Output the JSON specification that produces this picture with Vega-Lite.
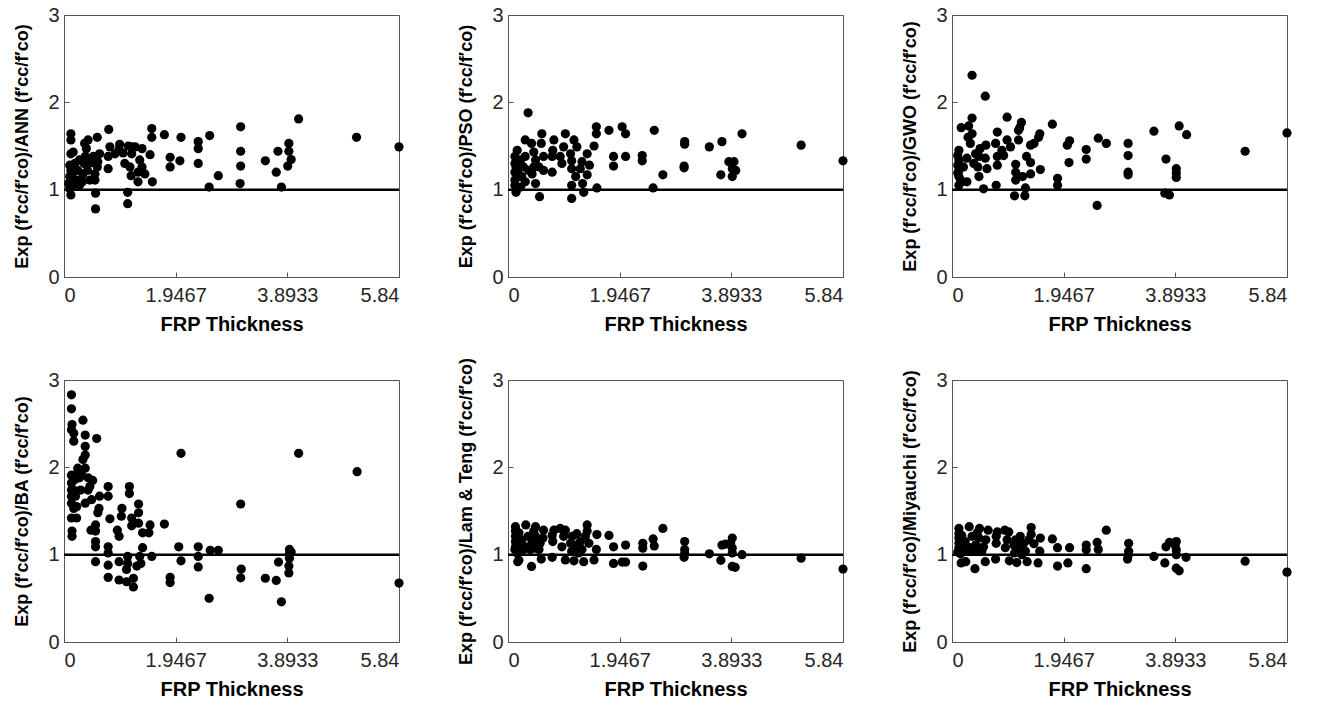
{
  "$schema": "https://vega.github.io/schema/vega-lite/v6.json",
  "padding": {"left": 13, "top": 4, "right": 0, "bottom": 0},
  "background": "white",
  "datasets": {
    "ANN": [
      {"t":5.84,"r":1.49},{"t":5.10,"r":1.60},{"t":4.09,"r":1.81},{"t":3.96,"r":1.345},{"t":3.92,"r":1.53},{"t":3.92,"r":1.44},{"t":3.90,"r":1.27},{"t":3.73,"r":1.44},{"t":3.70,"r":1.20},{"t":3.79,"r":1.03},
      {"t":3.51,"r":1.33},{"t":3.08,"r":1.72},{"t":3.08,"r":1.44},{"t":3.08,"r":1.27},{"t":3.07,"r":1.07},{"t":2.69,"r":1.16},{"t":2.54,"r":1.62},{"t":2.53,"r":1.03},{"t":2.34,"r":1.55},{"t":2.34,"r":1.47},
      {"t":2.34,"r":1.30},{"t":2.04,"r":1.60},{"t":2.02,"r":1.33},{"t":1.85,"r":1.37},{"t":1.85,"r":1.26},{"t":1.75,"r":1.63},{"t":1.53,"r":1.70},{"t":1.53,"r":1.60},{"t":1.54,"r":1.09},{"t":1.50,"r":1.40},
      {"t":1.41,"r":1.18},{"t":1.36,"r":1.26},{"t":1.36,"r":1.47},{"t":1.32,"r":1.34},{"t":1.29,"r":1.20},{"t":1.29,"r":1.09},{"t":1.24,"r":1.49},{"t":1.18,"r":1.49},{"t":1.18,"r":1.41},{"t":1.15,"r":1.26},
      {"t":1.17,"r":1.16},{"t":1.12,"r":1.50},{"t":1.11,"r":0.97},{"t":1.11,"r":0.84},{"t":1.06,"r":1.30},{"t":1.03,"r":1.42},{"t":0.97,"r":1.52},{"t":0.96,"r":1.46},{"t":0.89,"r":1.41},{"t":0.80,"r":1.49},
      {"t":0.78,"r":1.69},{"t":0.77,"r":1.38},{"t":0.77,"r":1.24},{"t":0.62,"r":1.41},{"t":0.59,"r":1.32},{"t":0.58,"r":1.26},{"t":0.58,"r":1.60},{"t":0.55,"r":0.96},{"t":0.55,"r":0.78},{"t":0.54,"r":1.11},
      {"t":0.54,"r":1.18},{"t":0.51,"r":1.38},{"t":0.48,"r":1.31},{"t":0.42,"r":1.57},{"t":0.39,"r":1.47},{"t":0.37,"r":1.38},{"t":0.35,"r":1.30},{"t":0.33,"r":1.18},{"t":0.32,"r":1.09},{"t":0.36,"r":1.53},
      {"t":0.27,"r":1.34},{"t":0.24,"r":1.22},{"t":0.22,"r":1.11},{"t":0.19,"r":1.30},{"t":0.16,"r":1.43},{"t":0.14,"r":1.18},{"t":0.13,"r":1.03},{"t":0.12,"r":1.64},{"t":0.12,"r":1.57},{"t":0.12,"r":1.41},
      {"t":0.12,"r":1.22},{"t":0.12,"r":1.11},{"t":0.12,"r":0.94},{"t":0.10,"r":1.15},{"t":0.10,"r":1.01},{"t":0.10,"r":1.28},{"t":0.08,"r":1.07},{"t":0.19,"r":1.07},{"t":0.27,"r":1.05},{"t":0.45,"r":1.11},
      {"t":0.41,"r":1.22}
    ],
    "PSO": [
      {"t":5.84,"r":1.33},{"t":5.11,"r":1.51},{"t":4.08,"r":1.64},{"t":3.94,"r":1.32},{"t":3.91,"r":1.24},{"t":3.91,"r":1.15},{"t":3.85,"r":1.32},{"t":3.97,"r":1.22},{"t":3.73,"r":1.55},{"t":3.71,"r":1.17},
      {"t":3.51,"r":1.49},{"t":3.08,"r":1.55},{"t":3.08,"r":1.52},{"t":3.07,"r":1.27},{"t":3.07,"r":1.25},{"t":2.70,"r":1.17},{"t":2.55,"r":1.68},{"t":2.53,"r":1.02},{"t":2.34,"r":1.39},{"t":2.34,"r":1.33},
      {"t":2.05,"r":1.38},{"t":2.05,"r":1.64},{"t":1.99,"r":1.72},{"t":1.84,"r":1.38},{"t":1.84,"r":1.27},{"t":1.76,"r":1.68},{"t":1.54,"r":1.72},{"t":1.54,"r":1.64},{"t":1.55,"r":1.02},{"t":1.50,"r":1.50},
      {"t":1.42,"r":1.28},{"t":1.38,"r":1.41},{"t":1.38,"r":1.17},{"t":1.32,"r":0.97},{"t":1.30,"r":1.07},{"t":1.29,"r":1.32},{"t":1.26,"r":1.24},{"t":1.20,"r":1.49},{"t":1.18,"r":1.15},{"t":1.15,"r":1.57},
      {"t":1.11,"r":0.90},{"t":1.11,"r":1.05},{"t":1.11,"r":1.24},{"t":1.11,"r":1.33},{"t":1.09,"r":1.41},{"t":1.00,"r":1.64},{"t":0.97,"r":1.49},{"t":0.94,"r":1.30},{"t":0.91,"r":1.38},{"t":0.80,"r":1.57},
      {"t":0.78,"r":1.45},{"t":0.77,"r":1.38},{"t":0.77,"r":1.20},{"t":0.62,"r":1.38},{"t":0.62,"r":1.22},{"t":0.59,"r":1.64},{"t":0.58,"r":1.53},{"t":0.55,"r":0.92},{"t":0.54,"r":1.26},{"t":0.48,"r":1.34},
      {"t":0.48,"r":1.07},{"t":0.45,"r":1.43},{"t":0.42,"r":1.18},{"t":0.41,"r":1.53},{"t":0.35,"r":1.88},{"t":0.30,"r":1.57},{"t":0.30,"r":1.38},{"t":0.30,"r":1.09},{"t":0.27,"r":1.26},{"t":0.24,"r":1.15},
      {"t":0.22,"r":1.03},{"t":0.22,"r":1.34},{"t":0.17,"r":1.22},{"t":0.16,"r":1.45},{"t":0.14,"r":0.97},{"t":0.12,"r":1.30},{"t":0.12,"r":1.11},{"t":0.12,"r":1.38},{"t":0.12,"r":1.20},{"t":0.12,"r":1.05},
      {"t":0.14,"r":1.26},{"t":0.19,"r":1.15},{"t":0.36,"r":1.22},{"t":0.45,"r":1.26}
    ],
    "GWO": [
      {"t":5.84,"r":1.65},{"t":5.11,"r":1.44},{"t":4.09,"r":1.63},{"t":3.96,"r":1.73},{"t":3.91,"r":1.24},{"t":3.91,"r":1.19},{"t":3.91,"r":1.14},{"t":3.73,"r":1.35},{"t":3.71,"r":0.96},{"t":3.79,"r":0.94},
      {"t":3.52,"r":1.67},{"t":3.07,"r":1.53},{"t":3.07,"r":1.39},{"t":3.07,"r":1.20},{"t":3.07,"r":1.17},{"t":2.69,"r":1.53},{"t":2.55,"r":1.59},{"t":2.53,"r":0.82},{"t":2.34,"r":1.46},{"t":2.34,"r":1.35},
      {"t":2.05,"r":1.56},{"t":2.01,"r":1.51},{"t":2.04,"r":1.31},{"t":1.84,"r":1.13},{"t":1.84,"r":1.05},{"t":1.75,"r":1.75},{"t":1.54,"r":1.23},{"t":1.53,"r":1.64},{"t":1.51,"r":1.60},{"t":1.43,"r":1.53},
      {"t":1.37,"r":1.51},{"t":1.37,"r":1.18},{"t":1.37,"r":1.31},{"t":1.30,"r":1.38},{"t":1.28,"r":1.02},{"t":1.27,"r":0.93},{"t":1.23,"r":1.15},{"t":1.21,"r":1.77},{"t":1.18,"r":1.71},{"t":1.16,"r":1.68},
      {"t":1.16,"r":1.57},{"t":1.11,"r":1.20},{"t":1.11,"r":1.29},{"t":1.11,"r":1.11},{"t":1.09,"r":0.93},{"t":1.02,"r":1.49},{"t":0.96,"r":1.83},{"t":0.96,"r":1.57},{"t":0.90,"r":1.39},{"t":0.87,"r":1.45},
      {"t":0.79,"r":1.66},{"t":0.79,"r":1.38},{"t":0.79,"r":1.28},{"t":0.77,"r":1.05},{"t":0.76,"r":1.53},{"t":0.58,"r":2.07},{"t":0.59,"r":1.51},{"t":0.61,"r":1.24},{"t":0.58,"r":1.36},{"t":0.55,"r":1.01},
      {"t":0.49,"r":1.47},{"t":0.47,"r":1.38},{"t":0.45,"r":1.26},{"t":0.41,"r":1.41},{"t":0.38,"r":1.30},{"t":0.35,"r":2.31},{"t":0.35,"r":1.82},{"t":0.35,"r":1.64},{"t":0.32,"r":1.53},{"t":0.29,"r":1.73},
      {"t":0.28,"r":1.60},{"t":0.26,"r":1.36},{"t":0.26,"r":1.09},{"t":0.16,"r":1.71},{"t":0.17,"r":1.09},{"t":0.12,"r":1.45},{"t":0.12,"r":1.34},{"t":0.12,"r":1.22},{"t":0.12,"r":1.15},{"t":0.12,"r":1.05},
      {"t":0.10,"r":1.39},{"t":0.10,"r":1.28},{"t":0.10,"r":1.19},{"t":0.15,"r":1.11},{"t":0.20,"r":1.26},{"t":0.47,"r":1.15}
    ],
    "BA": [
      {"t":5.84,"r":0.675},{"t":5.11,"r":1.95},{"t":4.09,"r":2.16},{"t":3.93,"r":1.06},{"t":3.93,"r":1.01},{"t":3.93,"r":0.96},{"t":3.92,"r":0.87},{"t":3.92,"r":0.79},{"t":3.96,"r":1.03},{"t":3.79,"r":0.46},
      {"t":3.74,"r":0.915},{"t":3.70,"r":0.705},{"t":3.51,"r":0.73},{"t":3.08,"r":1.58},{"t":3.09,"r":0.835},{"t":3.08,"r":0.735},{"t":2.69,"r":1.05},{"t":2.55,"r":1.05},{"t":2.53,"r":0.50},{"t":2.34,"r":1.09},
      {"t":2.34,"r":0.98},{"t":2.34,"r":0.86},{"t":2.04,"r":2.16},{"t":2.04,"r":0.93},{"t":2.00,"r":1.09},{"t":1.85,"r":0.74},{"t":1.85,"r":0.68},{"t":1.75,"r":1.35},{"t":1.53,"r":0.98},{"t":1.50,"r":1.34},
      {"t":1.48,"r":1.25},{"t":1.37,"r":1.08},{"t":1.37,"r":1.25},{"t":1.34,"r":0.90},{"t":1.32,"r":0.98},{"t":1.30,"r":1.58},{"t":1.30,"r":1.48},{"t":1.30,"r":1.36},{"t":1.27,"r":0.87},{"t":1.18,"r":1.42},
      {"t":1.18,"r":1.33},{"t":1.21,"r":0.73},{"t":1.21,"r":0.63},{"t":1.14,"r":1.78},{"t":1.14,"r":1.70},{"t":1.11,"r":0.98},{"t":1.11,"r":0.90},{"t":1.09,"r":0.83},{"t":1.09,"r":0.69},{"t":1.01,"r":1.53},
      {"t":1.00,"r":1.44},{"t":0.96,"r":0.92},{"t":0.96,"r":0.71},{"t":0.93,"r":1.28},{"t":0.96,"r":1.21},{"t":0.80,"r":1.41},{"t":0.77,"r":1.78},{"t":0.77,"r":1.67},{"t":0.77,"r":1.09},{"t":0.77,"r":1.02},
      {"t":0.77,"r":0.88},{"t":0.77,"r":0.74},{"t":0.62,"r":1.67},{"t":0.61,"r":1.53},{"t":0.59,"r":1.48},{"t":0.57,"r":2.33},{"t":0.55,"r":1.34},{"t":0.55,"r":1.27},{"t":0.55,"r":1.15},{"t":0.55,"r":1.09},
      {"t":0.55,"r":0.92},{"t":0.50,"r":1.85},{"t":0.48,"r":1.63},{"t":0.47,"r":1.28},{"t":0.45,"r":1.78},{"t":0.42,"r":1.74},{"t":0.37,"r":2.37},{"t":0.37,"r":2.24},{"t":0.37,"r":2.14},{"t":0.37,"r":1.99},
      {"t":0.37,"r":1.59},{"t":0.33,"r":2.54},{"t":0.33,"r":2.09},{"t":0.30,"r":1.93},{"t":0.29,"r":1.74},{"t":0.27,"r":1.88},{"t":0.24,"r":1.99},{"t":0.22,"r":1.42},{"t":0.22,"r":1.55},{"t":0.19,"r":1.91},
      {"t":0.17,"r":2.30},{"t":0.17,"r":2.39},{"t":0.14,"r":2.49},{"t":0.13,"r":2.83},{"t":0.13,"r":2.67},{"t":0.13,"r":2.43},{"t":0.13,"r":1.91},{"t":0.13,"r":1.82},{"t":0.13,"r":1.74},{"t":0.13,"r":1.67},
      {"t":0.13,"r":1.59},{"t":0.13,"r":1.42},{"t":0.14,"r":1.27},{"t":0.14,"r":1.21},{"t":0.19,"r":1.86},{"t":0.17,"r":1.74},{"t":0.20,"r":1.67},{"t":0.17,"r":1.53},{"t":0.42,"r":1.88}
    ],
    "LT": [
      {"t":5.84,"r":0.835},{"t":5.11,"r":0.96},{"t":4.08,"r":1.00},{"t":3.96,"r":0.855},{"t":3.91,"r":0.865},{"t":3.91,"r":1.19},{"t":3.91,"r":1.075},{"t":3.91,"r":1.02},{"t":3.88,"r":1.13},{"t":3.79,"r":1.12},
      {"t":3.73,"r":1.11},{"t":3.71,"r":0.935},{"t":3.51,"r":1.01},{"t":3.08,"r":1.15},{"t":3.08,"r":1.06},{"t":3.08,"r":1.01},{"t":3.07,"r":0.97},{"t":2.70,"r":1.30},{"t":2.55,"r":1.10},{"t":2.53,"r":1.18},
      {"t":2.35,"r":1.13},{"t":2.35,"r":1.075},{"t":2.35,"r":0.87},{"t":2.05,"r":1.11},{"t":2.05,"r":0.915},{"t":1.99,"r":0.915},{"t":1.84,"r":1.09},{"t":1.84,"r":0.90},{"t":1.76,"r":1.22},{"t":1.55,"r":1.23},
      {"t":1.54,"r":1.06},{"t":1.50,"r":0.94},{"t":1.38,"r":1.34},{"t":1.38,"r":1.27},{"t":1.41,"r":1.13},{"t":1.35,"r":1.21},{"t":1.32,"r":0.92},{"t":1.29,"r":1.06},{"t":1.26,"r":1.15},{"t":1.20,"r":1.24},
      {"t":1.18,"r":1.11},{"t":1.15,"r":0.93},{"t":1.12,"r":1.21},{"t":1.11,"r":1.04},{"t":1.09,"r":1.13},{"t":1.00,"r":0.94},{"t":1.00,"r":1.28},{"t":0.97,"r":1.21},{"t":0.94,"r":1.09},{"t":0.91,"r":1.30},
      {"t":0.80,"r":1.28},{"t":0.78,"r":1.15},{"t":0.77,"r":0.97},{"t":0.77,"r":1.22},{"t":0.62,"r":1.28},{"t":0.61,"r":1.19},{"t":0.58,"r":0.95},{"t":0.56,"r":1.13},{"t":0.48,"r":1.32},{"t":0.48,"r":1.21},
      {"t":0.48,"r":1.075},{"t":0.45,"r":1.27},{"t":0.42,"r":1.15},{"t":0.41,"r":0.865},{"t":0.35,"r":1.21},{"t":0.31,"r":1.34},{"t":0.31,"r":1.09},{"t":0.27,"r":1.06},{"t":0.24,"r":1.17},{"t":0.19,"r":0.935},
      {"t":0.17,"r":0.92},{"t":0.16,"r":1.02},{"t":0.13,"r":1.32},{"t":0.13,"r":1.27},{"t":0.13,"r":1.21},{"t":0.13,"r":1.15},{"t":0.13,"r":1.09},{"t":0.12,"r":1.06},{"t":0.19,"r":1.25},{"t":0.22,"r":1.13},
      {"t":0.39,"r":1.06},{"t":0.54,"r":1.06},{"t":1.23,"r":1.02}
    ],
    "MI": [
      {"t":5.84,"r":0.80},{"t":5.11,"r":0.925},{"t":4.08,"r":0.97},{"t":3.96,"r":0.815},{"t":3.91,"r":0.845},{"t":3.91,"r":1.15},{"t":3.91,"r":1.055},{"t":3.91,"r":1.00},{"t":3.89,"r":1.11},{"t":3.79,"r":1.14},
      {"t":3.73,"r":1.09},{"t":3.71,"r":0.905},{"t":3.52,"r":0.98},{"t":3.08,"r":1.13},{"t":3.08,"r":1.04},{"t":3.07,"r":0.99},{"t":3.06,"r":0.95},{"t":2.69,"r":1.28},{"t":2.55,"r":1.06},{"t":2.53,"r":1.14},
      {"t":2.34,"r":1.11},{"t":2.34,"r":1.055},{"t":2.34,"r":0.84},{"t":2.05,"r":1.08},{"t":2.02,"r":0.905},{"t":1.84,"r":1.08},{"t":1.84,"r":0.87},{"t":1.75,"r":1.18},{"t":1.54,"r":1.19},{"t":1.53,"r":1.04},
      {"t":1.50,"r":0.905},{"t":1.38,"r":1.31},{"t":1.38,"r":1.23},{"t":1.43,"r":1.125},{"t":1.34,"r":1.17},{"t":1.31,"r":0.92},{"t":1.28,"r":1.04},{"t":1.25,"r":1.13},{"t":1.19,"r":1.21},{"t":1.16,"r":1.09},
      {"t":1.13,"r":0.91},{"t":1.11,"r":1.17},{"t":1.09,"r":1.02},{"t":1.08,"r":1.11},{"t":1.00,"r":0.93},{"t":0.99,"r":1.26},{"t":0.96,"r":1.17},{"t":0.93,"r":1.08},{"t":0.92,"r":1.28},{"t":0.79,"r":1.26},
      {"t":0.77,"r":1.13},{"t":0.76,"r":0.95},{"t":0.77,"r":1.21},{"t":0.63,"r":1.28},{"t":0.59,"r":1.17},{"t":0.58,"r":0.92},{"t":0.55,"r":1.09},{"t":0.48,"r":1.30},{"t":0.47,"r":1.19},{"t":0.47,"r":1.055},
      {"t":0.44,"r":1.25},{"t":0.41,"r":1.11},{"t":0.40,"r":0.84},{"t":0.35,"r":1.21},{"t":0.30,"r":1.32},{"t":0.30,"r":1.08},{"t":0.26,"r":1.04},{"t":0.23,"r":1.15},{"t":0.24,"r":0.92},{"t":0.16,"r":0.905},
      {"t":0.15,"r":1.01},{"t":0.12,"r":1.30},{"t":0.12,"r":1.24},{"t":0.12,"r":1.19},{"t":0.12,"r":1.13},{"t":0.12,"r":1.08},{"t":0.10,"r":1.03},{"t":0.17,"r":1.22},{"t":0.20,"r":1.11},{"t":0.38,"r":1.04},
      {"t":0.52,"r":1.04},{"t":1.22,"r":1.00}
    ]
  },
  "columns": 3,
  "spacing": {"row": 103, "column": 109},
  "bounds": "flush",
  "concat": [
    {"width": 335, "height": 262, "layer": [
      {"data": {"name": "ANN"}, "mark": {"type": "point", "filled": true, "size": 85, "color": "black", "opacity": 1},
       "encoding": {"x": {"field": "t", "type": "quantitative", "title": "FRP Thickness", "scale": {"domain": [0, 5.84], "nice": false, "zero": false}, "axis": {"values": [0, 1.9467, 3.8933, 5.84], "format": ".5~g"}},
                    "y": {"field": "r", "type": "quantitative", "title": "Exp (f′cc/f′co)/ANN (f′cc/f′co)", "scale": {"domain": [0, 3], "nice": false}, "axis": {"values": [0, 1, 2, 3], "format": "d"}}}},
      {"data": {"values": [{}]}, "mark": {"type": "rule", "color": "black", "strokeWidth": 2.5}, "encoding": {"y": {"datum": 1}}}
    ]},
    {"width": 335, "height": 262, "layer": [
      {"data": {"name": "PSO"}, "mark": {"type": "point", "filled": true, "size": 85, "color": "black", "opacity": 1},
       "encoding": {"x": {"field": "t", "type": "quantitative", "title": "FRP Thickness", "scale": {"domain": [0, 5.84], "nice": false, "zero": false}, "axis": {"values": [0, 1.9467, 3.8933, 5.84], "format": ".5~g"}},
                    "y": {"field": "r", "type": "quantitative", "title": "Exp (f′cc/f′co)/PSO (f′cc/f′co)", "scale": {"domain": [0, 3], "nice": false}, "axis": {"values": [0, 1, 2, 3], "format": "d"}}}},
      {"data": {"values": [{}]}, "mark": {"type": "rule", "color": "black", "strokeWidth": 2.5}, "encoding": {"y": {"datum": 1}}}
    ]},
    {"width": 335, "height": 262, "layer": [
      {"data": {"name": "GWO"}, "mark": {"type": "point", "filled": true, "size": 85, "color": "black", "opacity": 1},
       "encoding": {"x": {"field": "t", "type": "quantitative", "title": "FRP Thickness", "scale": {"domain": [0, 5.84], "nice": false, "zero": false}, "axis": {"values": [0, 1.9467, 3.8933, 5.84], "format": ".5~g"}},
                    "y": {"field": "r", "type": "quantitative", "title": "Exp (f′cc/f′co)/GWO (f′cc/f′co)", "scale": {"domain": [0, 3], "nice": false}, "axis": {"values": [0, 1, 2, 3], "format": "d"}}}},
      {"data": {"values": [{}]}, "mark": {"type": "rule", "color": "black", "strokeWidth": 2.5}, "encoding": {"y": {"datum": 1}}}
    ]},
    {"width": 335, "height": 262, "layer": [
      {"data": {"name": "BA"}, "mark": {"type": "point", "filled": true, "size": 85, "color": "black", "opacity": 1},
       "encoding": {"x": {"field": "t", "type": "quantitative", "title": "FRP Thickness", "scale": {"domain": [0, 5.84], "nice": false, "zero": false}, "axis": {"values": [0, 1.9467, 3.8933, 5.84], "format": ".5~g"}},
                    "y": {"field": "r", "type": "quantitative", "title": "Exp (f′cc/f′co)/BA (f′cc/f′co)", "scale": {"domain": [0, 3], "nice": false}, "axis": {"values": [0, 1, 2, 3], "format": "d"}}}},
      {"data": {"values": [{}]}, "mark": {"type": "rule", "color": "black", "strokeWidth": 2.5}, "encoding": {"y": {"datum": 1}}}
    ]},
    {"width": 335, "height": 262, "layer": [
      {"data": {"name": "LT"}, "mark": {"type": "point", "filled": true, "size": 85, "color": "black", "opacity": 1},
       "encoding": {"x": {"field": "t", "type": "quantitative", "title": "FRP Thickness", "scale": {"domain": [0, 5.84], "nice": false, "zero": false}, "axis": {"values": [0, 1.9467, 3.8933, 5.84], "format": ".5~g"}},
                    "y": {"field": "r", "type": "quantitative", "title": "Exp (f′cc/f′co)/Lam & Teng (f′cc/f′co)", "scale": {"domain": [0, 3], "nice": false}, "axis": {"values": [0, 1, 2, 3], "format": "d"}}}},
      {"data": {"values": [{}]}, "mark": {"type": "rule", "color": "black", "strokeWidth": 2.5}, "encoding": {"y": {"datum": 1}}}
    ]},
    {"width": 335, "height": 262, "layer": [
      {"data": {"name": "MI"}, "mark": {"type": "point", "filled": true, "size": 85, "color": "black", "opacity": 1},
       "encoding": {"x": {"field": "t", "type": "quantitative", "title": "FRP Thickness", "scale": {"domain": [0, 5.84], "nice": false, "zero": false}, "axis": {"values": [0, 1.9467, 3.8933, 5.84], "format": ".5~g"}},
                    "y": {"field": "r", "type": "quantitative", "title": "Exp (f′cc/f′co)/Miyauchi (f′cc/f′co)", "scale": {"domain": [0, 3], "nice": false}, "axis": {"values": [0, 1, 2, 3], "format": "d"}}}},
      {"data": {"values": [{}]}, "mark": {"type": "rule", "color": "black", "strokeWidth": 2.5}, "encoding": {"y": {"datum": 1}}}
    ]}
  ],
  "config": {
    "font": "Liberation Sans",
    "view": {"stroke": "#555555", "strokeWidth": 1},
    "axis": {
      "grid": false,
      "labelFont": "Liberation Sans", "labelFontSize": 20, "labelColor": "#262626",
      "titleFont": "Liberation Sans", "titleFontWeight": "bold", "titleColor": "#000000",
      "domainColor": "#555555", "tickColor": "#555555", "tickSize": -5
    },
    "axisX": {"titleFontSize": 20, "labelPadding": 13, "titlePadding": 9},
    "axisY": {"titleFontSize": 18, "labelPadding": 10, "titlePadding": 16}
  }
}
